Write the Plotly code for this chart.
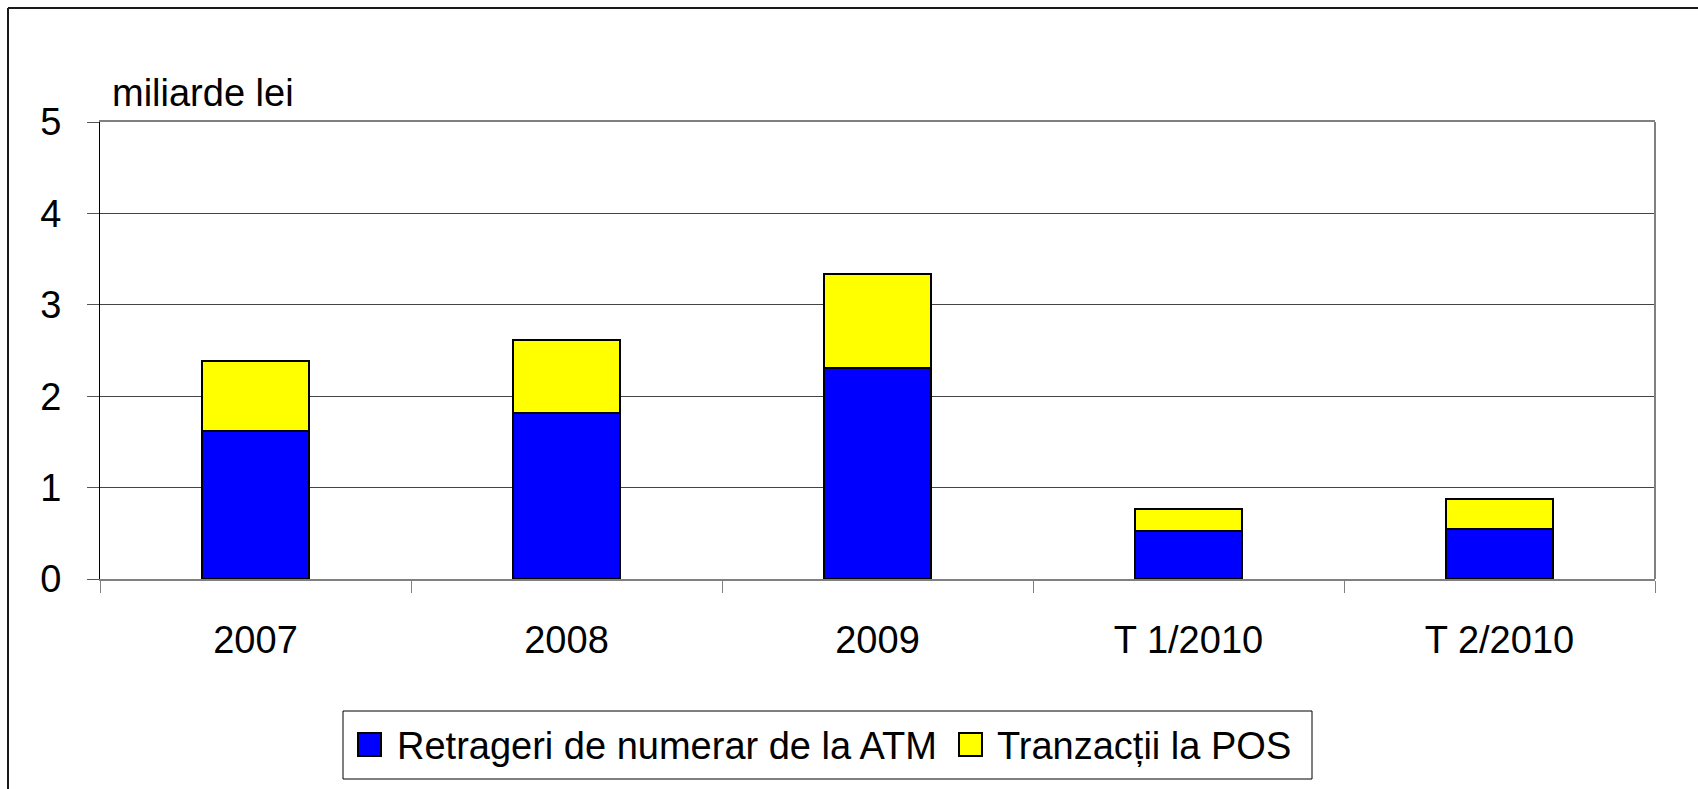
import plotly.graph_objects as go

# ---- data ----
categories = ["2007", "2008", "2009", "T 1/2010", "T 2/2010"]
atm_values = [1.62, 1.82, 2.31, 0.53, 0.55]
pos_values = [0.76, 0.80, 1.03, 0.24, 0.32]
series_names = ["Retrageri de numerar de la ATM", "Tranzacții la POS"]
series_colors = ["#0000FF", "#FFFF00"]
y_ticks = [0, 1, 2, 3, 4, 5]
unit_label = "miliarde lei"

# ---- layout geometry (pixels) ----
W, H = 1698, 789
L, R, T, B = 100, 1655, 122, 579
FONT = "Liberation Sans, Arial, sans-serif"
FS = 38


def px(x):
    return (x - L) / (R - L)


def py(y):
    return (B - y) / (B - T)


fig = go.Figure()
for name, vals, col in zip(series_names, [atm_values, pos_values], series_colors):
    fig.add_trace(go.Bar(
        x=categories, y=vals, name=name,
        marker=dict(color=col, line=dict(color="#000000", width=2)),
        showlegend=False,
    ))

shapes = []
# outer chart frame (left and top edges visible)
shapes.append(dict(type="line", xref="paper", yref="paper",
                   x0=px(8), x1=px(8), y0=py(8), y1=py(800),
                   line=dict(color="#1a1a1a", width=2)))
shapes.append(dict(type="line", xref="paper", yref="paper",
                   x0=px(8), x1=px(1710), y0=py(8), y1=py(8),
                   line=dict(color="#1a1a1a", width=2)))
# right border of plot area (gray)
shapes.append(dict(type="line", xref="paper", yref="paper",
                   x0=1, x1=1, y0=0, y1=1,
                   line=dict(color="#808080", width=2)))
# legend frame
shapes.append(dict(type="rect", xref="paper", yref="paper",
                   x0=px(343), x1=px(1312), y0=py(711), y1=py(779),
                   line=dict(color="#000000", width=1), fillcolor="white"))
# legend swatches
swatch_x = [358, 959]
for sx, col in zip(swatch_x, series_colors):
    shapes.append(dict(type="rect", xref="paper", yref="paper",
                       x0=px(sx), x1=px(sx + 23), y0=py(733), y1=py(756),
                       line=dict(color="#000000", width=2), fillcolor=col))

annotations = [
    dict(text=unit_label, xref="paper", yref="paper", x=px(110), y=py(92.8),
         xanchor="left", yanchor="middle", showarrow=False,
         font=dict(family=FONT, size=FS, color="black")),
]
text_x = [395, 995]
for tx, name in zip(text_x, series_names):
    annotations.append(dict(text=name, xref="paper", yref="paper", x=px(tx), y=py(745.5),
                            xanchor="left", yanchor="middle", showarrow=False,
                            font=dict(family=FONT, size=FS, color="black")))

fig.update_layout(
    width=W, height=H,
    margin=dict(l=L, r=W - R, t=T, b=H - B, pad=0),
    barmode="stack", bargap=0.653,
    paper_bgcolor="white", plot_bgcolor="white",
    font=dict(family=FONT, size=FS, color="black"),
    showlegend=False,
    shapes=shapes, annotations=annotations,
)
fig.update_xaxes(
    type="category", tickson="boundaries", ticks="outside", ticklen=12,
    tickcolor="#808080", tickwidth=1,
    showline=True, linecolor="#808080", linewidth=2, mirror=True,
    showgrid=False, ticklabelstandoff=26,
    tickfont=dict(family=FONT, size=FS, color="black"),
)
fig.update_yaxes(
    range=[0, 5], tickvals=y_ticks, ticks="outside", ticklen=12,
    tickcolor="#555555", tickwidth=1,
    showline=True, linecolor="#000000", linewidth=1,
    showgrid=True, gridcolor="#444444", gridwidth=1, zeroline=False,
    ticklabelstandoff=18,
    tickfont=dict(family=FONT, size=FS, color="black"),
)

fig.write_html("out.html", config={"displayModeBar": False},
               post_script="document.body.style.margin='0';")
